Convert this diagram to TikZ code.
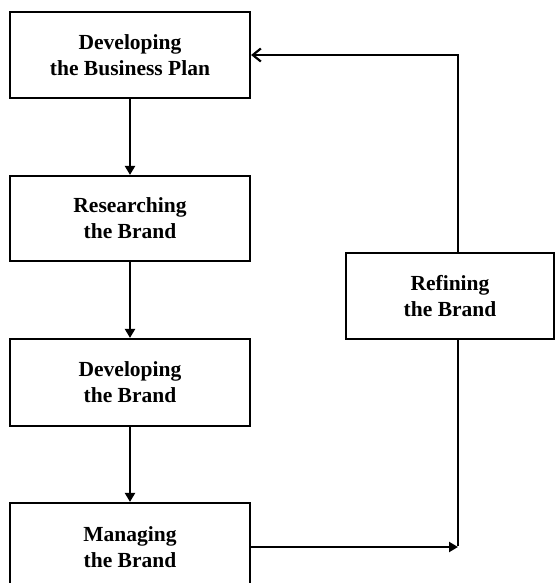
\documentclass[tikz,border=0pt]{standalone}
\usepackage{fontspec}
\setmainfont{Liberation Serif}
\usetikzlibrary{arrows.meta}
\begin{document}
\begin{tikzpicture}[x=1pt,y=-1pt,
  box/.style={draw=black,line width=2.2pt,rectangle,fill=white,align=center,
    font=\fontsize{21.5}{26}\selectfont\bfseries,inner sep=0pt},
  conn/.style={line width=2.2pt,draw=black},
  fwd/.style={conn,-{Triangle[width=10pt,length=9pt]}},
  back/.style={conn,-{Straight Barb[width=13pt,length=8pt,line width=2.2pt]}}]
\useasboundingbox (0,0) rectangle (555,583);
\node[box,minimum width=240pt,minimum height=86pt] (b1) at (130,55) {Developing\\the Business Plan};
\node[box,minimum width=240pt,minimum height=85pt] (b2) at (130,218.5) {Researching\\the Brand};
\node[box,minimum width=240pt,minimum height=87pt] (b3) at (130,382.5) {Developing\\the Brand};
\node[box,minimum width=240pt,minimum height=88pt] (b4) at (130,547) {Managing\\the Brand};
\node[box,minimum width=208pt,minimum height=86pt] (r) at (450,296) {Refining\\the Brand};
\coordinate (c1) at (458,547);
\coordinate (c2) at (458,55);
\draw[fwd] (b1.south) -- (b2.north);
\draw[fwd] (b2.south) -- (b3.north);
\draw[fwd] (b3.south) -- (b4.north);
\draw[fwd] (b4.east) -- (c1);
\draw[conn] (r.south -| c1) -- ([yshift=1.1pt]c1);
\draw[back] (r.north -| c2) -- (c2) -- (b1.east);
\end{tikzpicture}
\end{document}
